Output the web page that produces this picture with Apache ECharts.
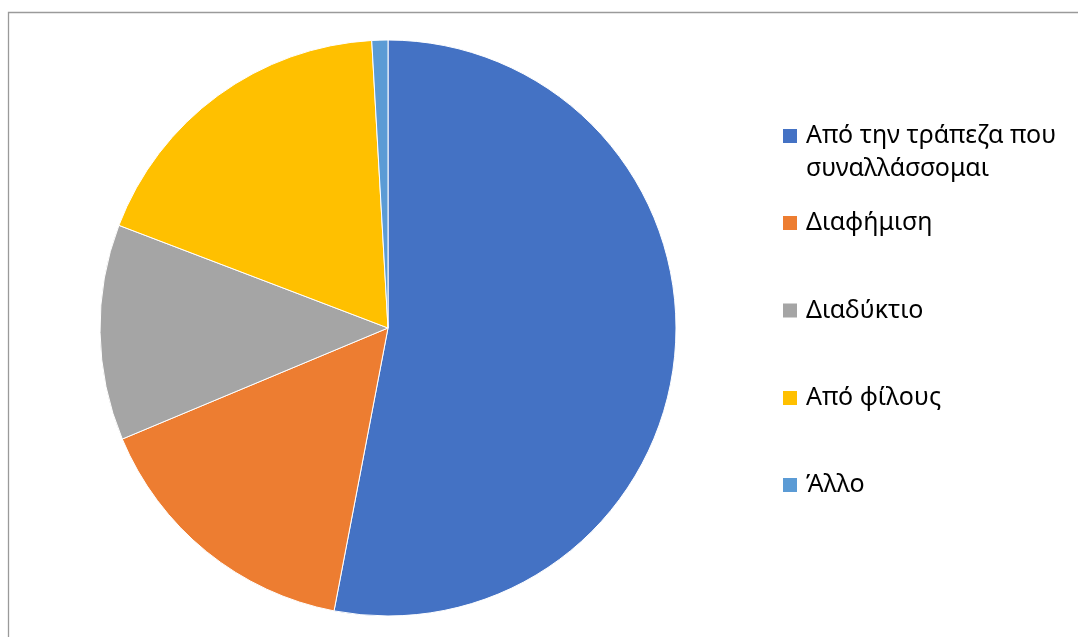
<!DOCTYPE html>
<html>
<head>
<meta charset="utf-8">
<script src="https://cdn.jsdelivr.net/npm/echarts@6/dist/echarts.min.js"></script>
<style>
  html, body { margin: 0; padding: 0; background: #ffffff; }
  #chart { width: 1078px; height: 637px; }
</style>
</head>
<body>
<div id="chart"></div>
<script>
// Sources of information (share of responses, %)
const categories = [
  'Από την τράπεζα που\nσυναλλάσσομαι',
  'Διαφήμιση',
  'Διαδύκτιο',
  'Από φίλους',
  'Άλλο'
];
const values = [53.0, 15.7, 12.1, 18.3, 0.9];
const colors = ['#4472C4', '#ED7D31', '#A5A5A5', '#FFC000', '#5B9BD5'];

// vertical centre of each legend marker
const legendCenters = [136, 223, 310.5, 398, 485];

const FONT = '"Noto Sans", "DejaVu Sans", sans-serif';
const LINE_H = 33;
const MARK = 16;

const chart = echarts.init(document.getElementById('chart'), null, { renderer: 'canvas' });

const legends = categories.map((name, i) => {
  const twoLine = name.indexOf('\n') >= 0;
  // a two-line entry gets a blank leading line so that, once the block is
  // centred on the marker, its first line sits beside the marker
  const lines = twoLine ? 3 : 1;
  return {
    show: true,
    orient: 'vertical',
    left: 781,
    top: legendCenters[i] - (lines * LINE_H) / 2,
    padding: 0,
    itemWidth: MARK,
    itemHeight: MARK,
    icon: 'rect',
    selectedMode: false,
    data: [name],
    formatter: twoLine ? (n => '\n' + n) : (n => n),
    textStyle: {
      fontFamily: FONT,
      fontSize: 25,
      color: '#000000',
      lineHeight: LINE_H,
      padding: [0, 0, 0, 3]
    }
  };
});

chart.setOption({
  animation: false,
  backgroundColor: '#ffffff',
  color: colors,
  graphic: [{
    type: 'rect',
    silent: true,
    shape: { x: 8.5, y: 12.5, width: 1200, height: 800 },
    style: { fill: 'none', stroke: '#9a9a9a', lineWidth: 1.3 }
  }],
  legend: legends,
  series: [{
    type: 'pie',
    center: [388, 328],
    radius: 288,
    startAngle: 90,
    clockwise: true,
    label: { show: false },
    labelLine: { show: false },
    emphasis: { disabled: true },
    itemStyle: { borderColor: '#ffffff', borderWidth: 1 },
    data: categories.map((name, i) => ({ name: name, value: values[i] }))
  }]
});
</script>
</body>
</html>
